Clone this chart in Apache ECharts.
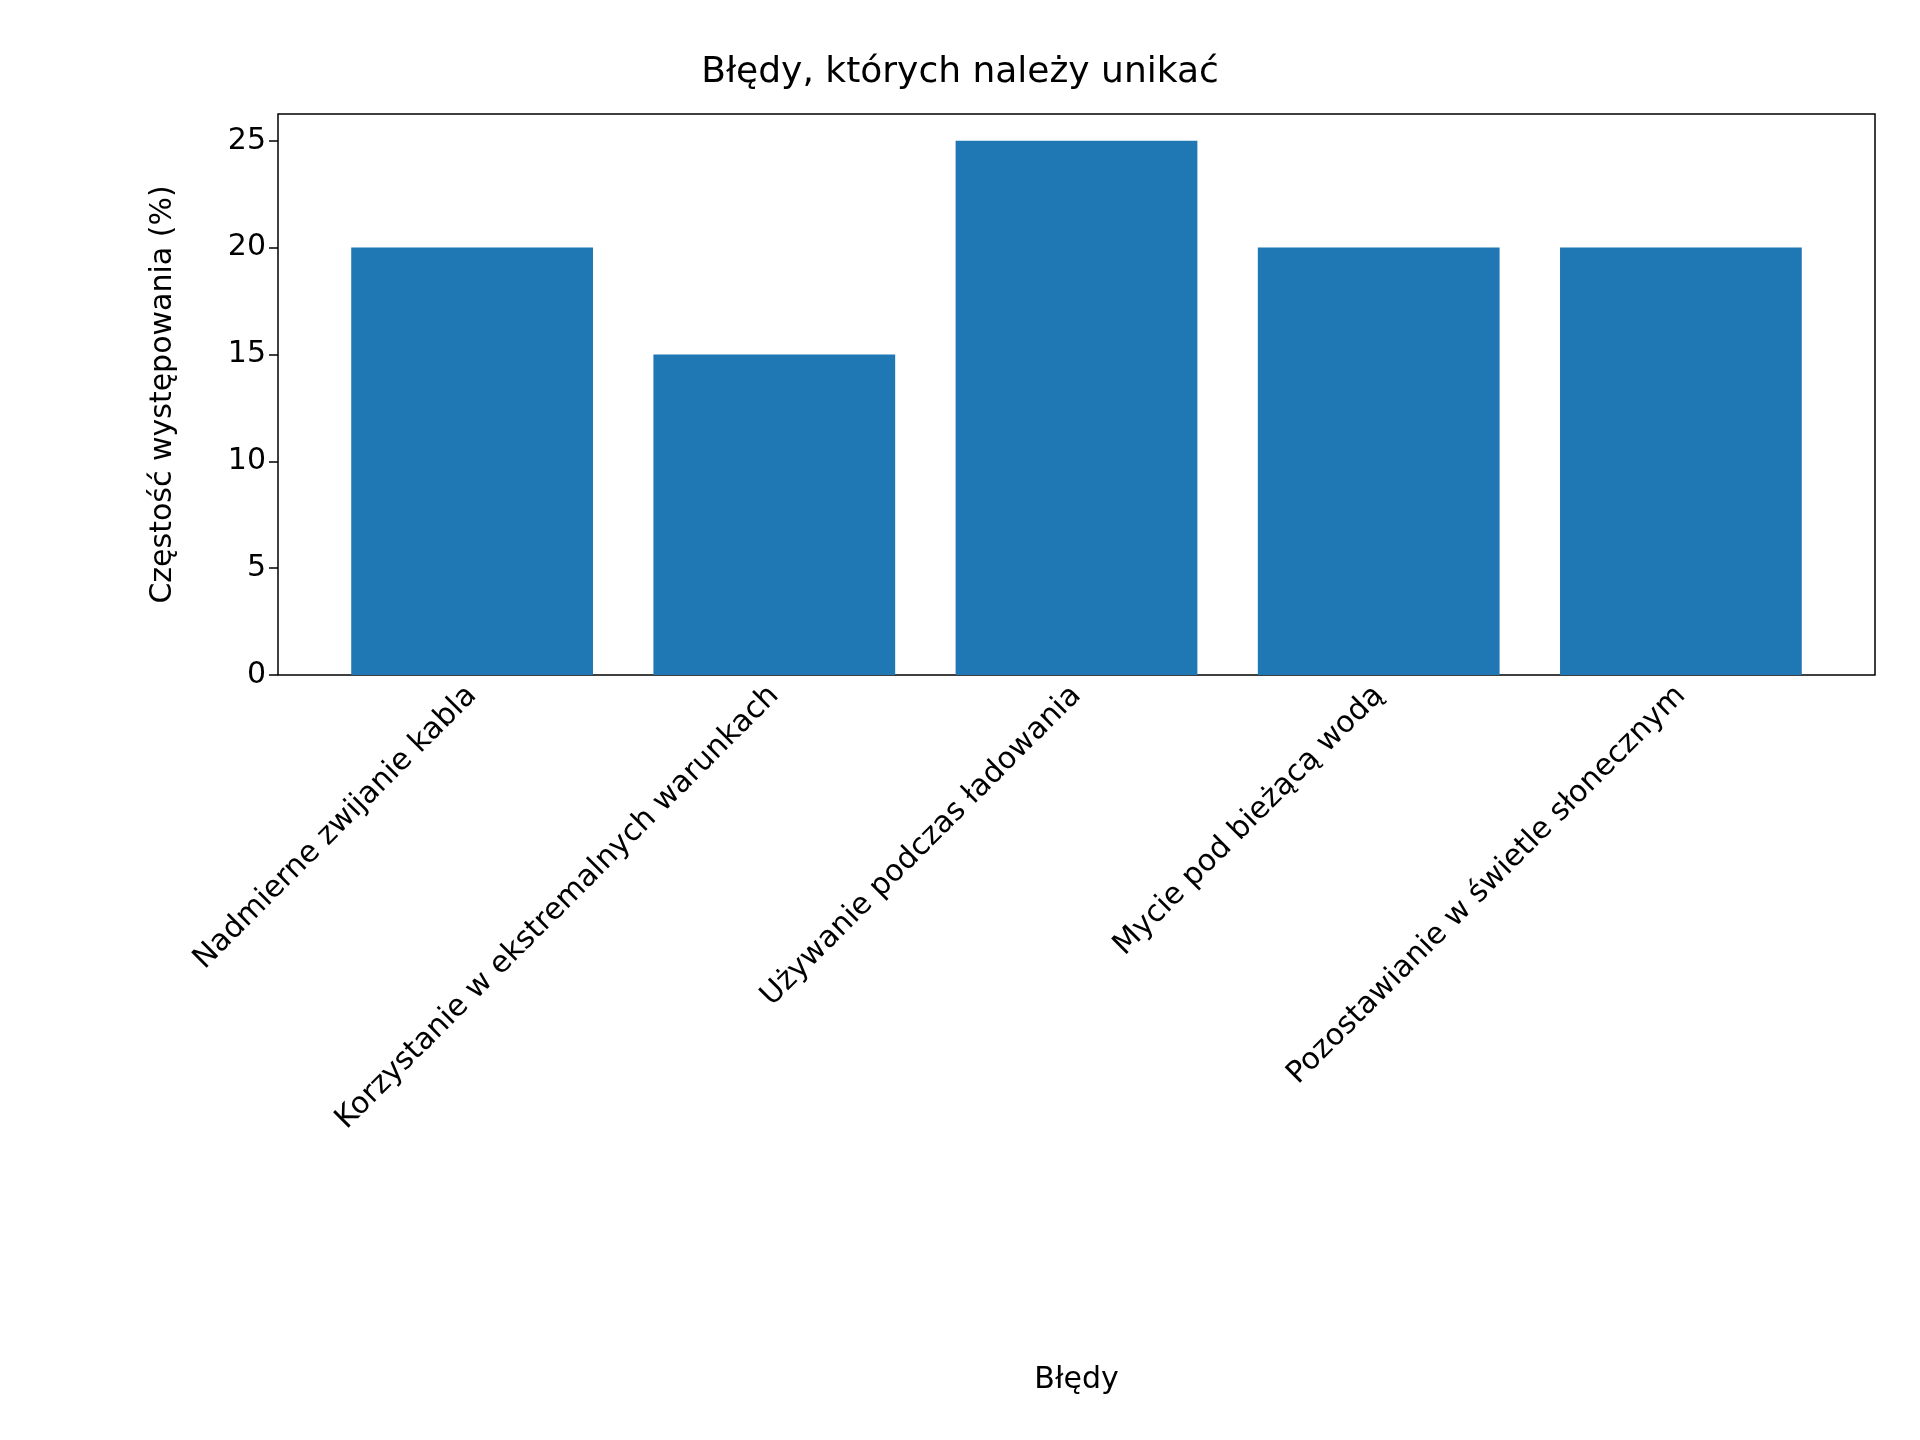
<!DOCTYPE html>
<html><head><meta charset="utf-8">
<script src="https://cdn.jsdelivr.net/npm/echarts@6/dist/echarts.min.js"></script>
<style>html,body{margin:0;background:#fff}#c{width:1920px;height:1440px}</style>
</head><body><div id="c"></div>
<script>
var categories = ['Nadmierne zwijanie kabla', 'Korzystanie w ekstremalnych warunkach', 'Używanie podczas ładowania', 'Mycie pod bieżącą wodą', 'Pozostawianie w świetle słonecznym'];
var values = [20, 15, 25, 20, 20];

var chart = echarts.init(document.getElementById('c'));
var font = 'DejaVu Sans';
chart.setOption({
    textStyle: { fontFamily: font },
    title: {
        text: 'Błędy, których należy unikać', left: 'center', top: 50,
        textStyle: { fontFamily: font, fontSize: 36, fontWeight: 'normal', color: '#000' }
    },
    grid: [
        { left: 278, right: 45, top: 114, bottom: 765, show: true, borderColor: '#000', borderWidth: 1.5, backgroundColor: 'transparent' },
        { left: 321, right: 88, top: 114, bottom: 765 }
    ],
    xAxis: [
        { gridIndex: 0, type: 'value', show: false, min: 0, max: 1 },
        {
            gridIndex: 1, type: 'category', data: categories,
            name: 'Błędy', nameLocation: 'middle', nameGap: 690,
            nameTextStyle: { fontFamily: font, fontSize: 30, color: '#000' },
            axisLine: { show: false },
            axisTick: { alignWithLabel: true, length: 9, lineStyle: { color: '#000', width: 1.5 } },
            axisLabel: { rotate: 45, fontSize: 30, color: '#000', margin: 16, interval: 0 }
        }
    ],
    yAxis: [
        { gridIndex: 0, type: 'value', show: false, min: 0, max: 1 },
        {
            gridIndex: 1, type: 'value', min: 0, max: 26.25, interval: 5, offset: 43,
            name: 'Częstość występowania (%)', nameLocation: 'middle', nameGap: 100,
            nameTextStyle: { fontFamily: font, fontSize: 30, color: '#000' },
            splitLine: { show: false },
            axisLine: { show: false },
            axisTick: { show: true, length: 9, lineStyle: { color: '#000', width: 1.5 } },
            axisLabel: { fontSize: 30, color: '#000', margin: 12, showMaxLabel: false }
        }
    ],
    series: [{
        type: 'bar', xAxisIndex: 1, yAxisIndex: 1, data: values,
        barWidth: '80%', itemStyle: { color: '#1f77b4' }
    }]
});
</script></body></html>
